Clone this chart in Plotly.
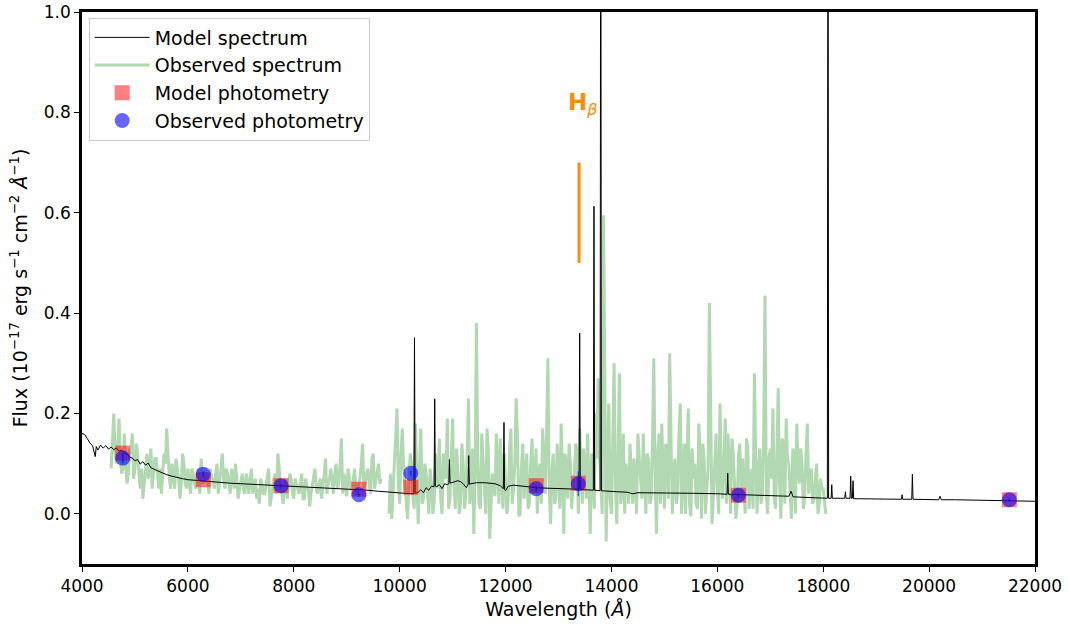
import numpy as np
import plotly.graph_objects as go

# ---------------- data ----------------
model_wave = [4000, 4050, 4100, 4150, 4200, 4230, 4250, 4270, 4300, 4350, 4400, 4450, 4500, 4550,
              4600, 4650, 4700, 4750, 4800, 4850, 4900, 4950, 5000, 5050, 5100, 5150, 5200, 5250,
              5300, 5400, 5500, 5600, 5700, 5800, 5900, 6000, 6200, 6400, 6600, 6800, 7000, 7200,
              7400, 7600, 7800, 8000, 8200, 8400, 8600, 8800, 9000, 9200, 9400, 9600, 9800, 10000,
              10200, 10268, 10280, 10292, 10350, 10400, 10450, 10500, 10550, 10600, 10650, 10662,
              10674, 10700, 10750, 10800, 10850, 10900, 10928, 10940, 10952, 10980, 11050, 11100,
              11150, 11200, 11260, 11292, 11304, 11316, 11350, 11450, 11600, 11800, 11900, 11958,
              11970, 11982, 12000, 12050, 12150, 12300, 12450, 12600, 12800, 13000, 13200, 13388,
              13400, 13412, 13500, 13658, 13670, 13682, 13786, 13798, 13810, 13900, 14100, 14300,
              14400, 14500, 15000, 15500, 16000, 16184, 16196, 16208, 16500, 17000, 17350, 17393,
              17430, 17600, 18000, 18078, 18090, 18102, 18150, 18161, 18172, 18300, 18407, 18419,
              18431, 18507, 18519, 18531, 18551, 18563, 18575, 18700, 19000, 19478, 19490, 19502,
              19672, 19684, 19696, 20000, 20180, 20207, 20230, 20500, 21000, 21500, 22000]
model_flux = [0.160, 0.158, 0.150, 0.141, 0.136, 0.122, 0.114, 0.134, 0.127, 0.137, 0.131, 0.136, 0.129, 0.133,
              0.128, 0.131, 0.125, 0.127, 0.121, 0.119, 0.113, 0.111, 0.106, 0.108, 0.099, 0.104, 0.097, 0.101,
              0.092, 0.087, 0.082, 0.078, 0.075, 0.072, 0.070, 0.068, 0.066, 0.064, 0.063, 0.061, 0.060, 0.059,
              0.058, 0.057, 0.055, 0.054, 0.053, 0.052, 0.051, 0.050, 0.049, 0.048, 0.047, 0.045, 0.043, 0.042,
              0.040, 0.040, 0.351, 0.041, 0.043, 0.048, 0.042, 0.052, 0.047, 0.055, 0.054, 0.229,
              0.055, 0.054, 0.058, 0.050, 0.060, 0.058, 0.060, 0.108, 0.061, 0.062, 0.064, 0.066,
              0.064, 0.060, 0.052, 0.058, 0.116, 0.059, 0.060, 0.062, 0.062, 0.060, 0.056, 0.050,
              0.182, 0.048, 0.046, 0.055, 0.057, 0.055, 0.053, 0.052, 0.051, 0.050, 0.049, 0.049,
              0.360, 0.049, 0.048, 0.047, 0.613, 0.047, 0.046, 1.500, 0.046, 0.045, 0.044, 0.043,
              0.040, 0.042, 0.042, 0.041, 0.040, 0.039, 0.081, 0.039, 0.038, 0.036, 0.035, 0.045,
              0.034, 0.033, 0.031, 0.031, 1.500, 0.031, 0.031, 0.058, 0.031, 0.031, 0.031, 0.044,
              0.031, 0.031, 0.075, 0.031, 0.031, 0.066, 0.030, 0.030, 0.030, 0.029, 0.038, 0.029,
              0.029, 0.079, 0.029, 0.029, 0.028, 0.035, 0.028, 0.028, 0.027, 0.026, 0.025]

# observed spectrum: two segments, read every 25 A (main samples on the 50 A grid,
# "mid" samples half-way between them)
obs_start_a = 4550
obs_flux_a = [0.09, 0.20, 0.10, 0.19, 0.08, 0.16, 0.06, 0.13, 0.16, 0.09, 0.12, 0.05, 0.03, 0.10,
              0.07, 0.13, 0.08, 0.11, 0.05, 0.04, 0.12, 0.17, 0.07, 0.10, 0.05, 0.09, 0.03, 0.12,
              0.06, 0.09, 0.04, 0.08, 0.05, 0.09, 0.11, 0.06, 0.08, 0.04, 0.07, 0.05, 0.10, 0.06,
              0.12, 0.05, 0.08, 0.04, 0.07, 0.10, 0.03, 0.07, 0.05, 0.08, 0.04, 0.09, 0.06, 0.03,
              0.02, 0.06, 0.04, 0.07, 0.015, 0.05, 0.08, 0.12, 0.05, 0.02, 0.07, 0.05, 0.07, 0.03,
              0.06, 0.04, 0.08, 0.03, 0.05, 0.015, 0.06, 0.09, 0.04, 0.07, 0.05, 0.11, 0.06, 0.09,
              0.04, 0.10, 0.06, 0.15, 0.08, 0.035, 0.07, 0.05, 0.09, 0.04, 0.07, 0.14, 0.06, 0.09,
              0.04, 0.12, 0.07, 0.10, 0.07]
obs_mid_a = [0.15, 0.12, 0.14, 0.11, 0.09, 0.10, 0.08, 0.12, 0.07, 0.14, 0.08, 0.09, 0.06,
             0.12, 0.09, 0.05, 0.11, 0.07, 0.09, 0.08, 0.10, 0.12, 0.05, 0.08, 0.11, 0.07,
             0.06, 0.10, 0.05, 0.07, 0.09, 0.06, 0.08, 0.04, 0.07, 0.09, 0.06, 0.09, 0.07,
             0.08, 0.04, 0.09, 0.07, 0.09, 0.06, 0.09, 0.05, 0.07, 0.05, 0.08, 0.04, 0.07,
             0.06, 0.04, 0.07, 0.05, 0.07, 0.04, 0.06, 0.09, 0.03, 0.07, 0.04, 0.09, 0.04,
             0.06, 0.03, 0.08, 0.04, 0.07, 0.05, 0.06, 0.03, 0.07, 0.05, 0.04, 0.07, 0.05,
             0.06, 0.03, 0.08, 0.04, 0.07, 0.06, 0.08, 0.05, 0.10, 0.04, 0.06, 0.09, 0.05,
             0.07, 0.04, 0.06, 0.10, 0.05, 0.08, 0.06, 0.11, 0.05, 0.09, 0.06]
obs_start_b = 9800
obs_flux_b = [0.00, -0.01, 0.10, 0.21, 0.02, 0.17, 0.05, -0.01, 0.12, 0.03, 0.18, -0.02, 0.17, 0.03,
              0.08, 0.00, 0.06, 0.02, 0.09, 0.15, 0.00, 0.07, 0.19, 0.03, 0.19, 0.01, 0.08, 0.02,
              0.10, 0.04, 0.23, 0.05, -0.04, 0.38, 0.02, 0.16, 0.06, 0.17, -0.05, 0.08, 0.035, 0.10,
              0.15, 0.01, 0.07, 0.03, 0.17, 0.05, 0.23, -0.005, 0.09, 0.03, 0.12, 0.02, 0.15, 0.06,
              0.00, 0.10, 0.17, 0.04, 0.31, -0.02, 0.12, 0.03, 0.09, 0.18, -0.04, 0.10, 0.14, 0.01,
              0.08, 0.12, 0.17, 0.02, 0.08, 0.16, -0.04, 0.09, 0.20, 0.27, 0.05, 0.595, -0.055, 0.22,
              0.00, 0.30, -0.02, 0.28, 0.04, 0.00, 0.07, 0.14, 0.02, 0.07, 0.16, 0.06, 0.16, 0.00,
              0.11, 0.03, 0.31, -0.04, 0.16, 0.18, 0.01, 0.10, 0.32, 0.00, 0.11, 0.04, 0.22, 0.07,
              0.00, 0.21, -0.005, 0.07, 0.02, 0.18, -0.01, 0.11, 0.04, 0.42, -0.02, 0.11, 0.05, 0.22,
              0.03, 0.19, 0.16, 0.00, 0.12, -0.01, 0.12, 0.03, 0.08, 0.15, 0.01, 0.09, 0.28, 0.00,
              0.13, 0.04, 0.435, 0.00, 0.13, 0.21, 0.01, 0.25, -0.01, 0.14, 0.19, 0.10, -0.01, 0.12,
              0.18, 0.06, 0.10, 0.03, 0.18, 0.08, 0.02, 0.06, 0.00, 0.07, 0.05, 0.00]
obs_mid_b = [0.08, 0.05, 0.15, 0.06, 0.12, 0.09, 0.03, 0.07, 0.10, 0.01, 0.07, 0.09, 0.02, 0.10,
             0.04, 0.09, 0.00, 0.12, 0.05, 0.03, 0.12, 0.08, 0.01, 0.10, 0.06, 0.13, 0.00, 0.14,
             0.01, 0.12, 0.02, 0.13, 0.08, 0.10, 0.01, 0.11, 0.00, 0.13, 0.04, 0.06, 0.16, 0.02,
             0.09, 0.12, 0.00, 0.13, 0.02, 0.10, 0.15, 0.00, 0.14, 0.07, 0.01, 0.10, 0.04, 0.13,
             0.08, 0.02, 0.11, 0.16, 0.05, 0.08, 0.02, 0.14, 0.01, 0.09, 0.12, 0.03, 0.10, 0.06,
             0.14, 0.00, 0.10, 0.13, 0.03, 0.07, 0.12, 0.01, 0.11, 0.12, 0.00, 0.14, 0.09, 0.03,
             0.15, 0.06, 0.11, 0.02, 0.16, 0.10, 0.02, 0.08, 0.11, 0.00, 0.11, 0.03, 0.09, 0.12,
             0.02, 0.14, 0.08, 0.12, 0.02, 0.09, 0.14, 0.03, 0.15, 0.08, 0.02, 0.16, 0.00, 0.14,
             0.12, 0.02, 0.13, 0.10, 0.01, 0.12, 0.14, 0.00, 0.09, 0.13, 0.03, 0.16, 0.00, 0.08,
             0.12, 0.02, 0.10, 0.15, 0.06, 0.02, 0.14, 0.11, 0.00, 0.13, 0.06, 0.01, 0.12, 0.08,
             0.02, 0.16, 0.04, 0.11, 0.07, 0.03, 0.12, 0.06, 0.15, 0.02, 0.11, 0.04, 0.13, 0.00,
             0.10, 0.13, 0.01, 0.12, 0.04, 0.09, 0.03, 0.10, 0.02, 0.05, 0.03]
obs_step = 25

phot_wave = [4770, 6290, 7760, 9230, 10210, 12580, 13375, 16398, 21516]
model_phot = [0.121, 0.068, 0.056, 0.049, 0.053, 0.056, 0.061, 0.037, 0.028]
obs_phot = [0.111, 0.079, 0.056, 0.038, 0.081, 0.050, 0.060, 0.037, 0.028]
obs_err = [0.010, 0.005, 0.004, 0.004, 0.005, 0.005, 0.025, 0.004, 0.003]

hb_wave = [13388, 13388]
hb_flux = [0.50, 0.70]
hb_label_pos = (13463, 0.817)

x_ticks = [4000, 6000, 8000, 10000, 12000, 14000, 16000, 18000, 20000, 22000]
x_tick_text = ["4000", "6000", "8000", "10000", "12000", "14000", "16000", "18000", "20000", "22000"]
y_ticks = [0.0, 0.2, 0.4, 0.6, 0.8, 1.0]
y_tick_text = ["0.0", "0.2", "0.4", "0.6", "0.8", "1.0"]


# ---------------- figure ----------------
def weave(main, mid, start, step):
    vals = []
    for i, v in enumerate(main):
        vals.append(v)
        if i < len(mid):
            vals.append(mid[i])
    waves = list(start + step * np.arange(len(vals)))
    return waves, vals


wave_a, flux_a = weave(obs_flux_a, obs_mid_a, obs_start_a, obs_step)
wave_b, flux_b = weave(obs_flux_b, obs_mid_b, obs_start_b, obs_step)
obs_wave = wave_a + [None] + wave_b
obs_flux = flux_a + [None] + flux_b

FONT = "DejaVu Sans"
fig = go.Figure()

fig.add_trace(go.Scatter(
    x=obs_wave, y=obs_flux, mode="lines", name="Observed spectrum",
    line=dict(color="rgb(178,216,178)", width=3), connectgaps=False, legendrank=2))
fig.add_trace(go.Scatter(
    x=model_wave, y=model_flux, mode="lines", name="Model spectrum",
    line=dict(color="black", width=1), legendrank=1))
fig.add_trace(go.Scatter(
    x=phot_wave, y=model_phot, mode="markers", name="Model photometry",
    marker=dict(symbol="square", size=15, color="rgba(255,0,0,0.5)", line=dict(width=0)),
    legendrank=3))
fig.add_trace(go.Scatter(
    x=phot_wave, y=obs_phot, mode="markers", name="Observed photometry",
    marker=dict(symbol="circle", size=15, color="rgba(0,0,255,0.6)", line=dict(width=0)),
    error_y=dict(type="data", array=obs_err, color="rgba(0,0,255,0.6)", thickness=1.5, width=0),
    legendrank=4))
fig.add_trace(go.Scatter(
    x=hb_wave, y=hb_flux, mode="lines", showlegend=False, hoverinfo="skip",
    line=dict(color="darkorange", width=3)))

fig.add_annotation(
    x=hb_label_pos[0], y=hb_label_pos[1], xref="x", yref="y",
    text="<b>H</b><sub><i>β</i></sub>", showarrow=False,
    font=dict(family=FONT, size=23, color="darkorange"))

axis_common = dict(
    showline=True, linecolor="black", linewidth=2.5, mirror=True,
    ticks="outside", ticklen=5, tickwidth=1.2, tickcolor="black",
    showgrid=False, zeroline=False, automargin=False,
    tickfont=dict(family=FONT, size=17, color="black"))

fig.update_xaxes(range=[4000, 22000], tickvals=x_ticks, ticktext=x_tick_text,
                 title=dict(text="Wavelength (<i>Å</i>)", font=dict(family=FONT, size=19, color="black"),
                            standoff=8),
                 **axis_common)
fig.update_yaxes(range=[-0.1, 1.0], tickvals=y_ticks, ticktext=y_tick_text,
                 title=dict(text="Flux (10<sup>−17</sup> erg s<sup>−1</sup> cm<sup>−2</sup> <i>Å</i><sup>−1</sup>)",
                            font=dict(family=FONT, size=19, color="black"), standoff=12),
                 **axis_common)

fig.update_layout(
    width=1069, height=626,
    margin=dict(l=82, r=34, t=12, b=62, autoexpand=False),
    paper_bgcolor="white", plot_bgcolor="white",
    font=dict(family=FONT, size=18, color="black"),
    legend=dict(x=0.007, y=0.99, xanchor="left", yanchor="top",
                bgcolor="rgba(255,255,255,0.9)", bordercolor="#cccccc", borderwidth=1,
                font=dict(family=FONT, size=19, color="black"),
                itemwidth=55, tracegroupgap=4),
    showlegend=True,
)

# remove the default page margin so the figure sits at the window's top-left corner
fig.write_html("out.html", config={"displayModeBar": False},
               post_script="document.body.style.margin='0';")
